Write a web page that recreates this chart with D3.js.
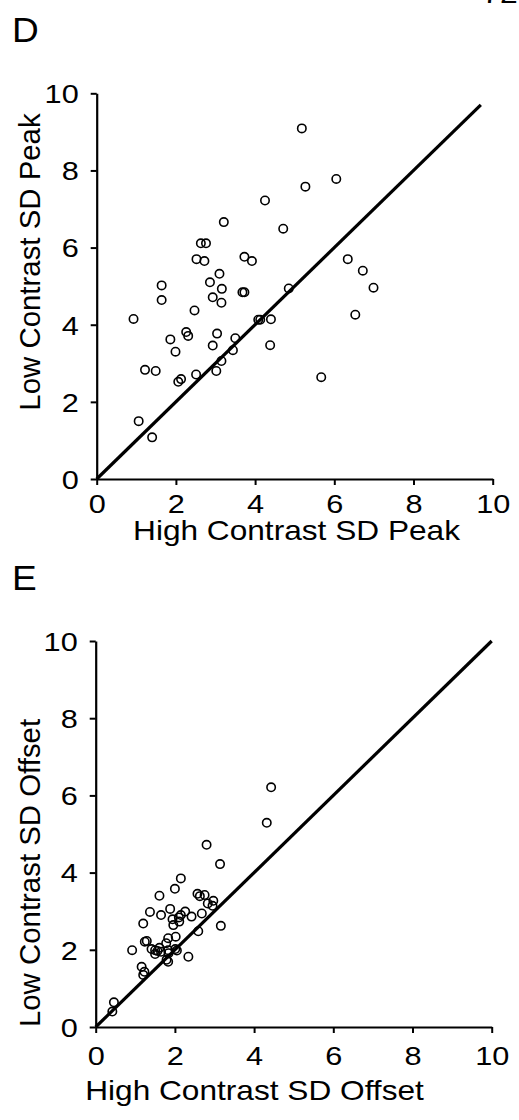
<!DOCTYPE html>
<html>
<head>
<meta charset="utf-8">
<script src="https://cdn.jsdelivr.net/npm/d3@7/dist/d3.min.js"></script>
<style>
  html, body { margin: 0; padding: 0; background: #ffffff; }
  svg { display: block; }
  text { font-family: "Liberation Sans", Arial, Helvetica, sans-serif; fill: #000; }
</style>
</head>
<body>
<script>
// ---- Data ----
const tickValues = [0, 2, 4, 6, 8, 10];
const tickLabels = ["0", "2", "4", "6", "8", "10"];

// Panel D: SD Peak
const peakHigh = [5.18, 6.05, 5.27, 4.25, 3.21, 4.71, 2.63, 2.76, 2.52, 2.72,
                  3.73, 3.92, 6.34, 6.72, 6.99, 3.10, 2.86, 1.64, 1.64, 3.16,
                  2.93, 3.15, 3.68, 3.73, 4.85, 2.47, 0.93, 4.08, 4.13, 4.40,
                  6.53, 2.26, 2.31, 3.04, 1.86, 3.50, 2.93, 4.38, 1.99, 3.44,
                  3.15, 1.22, 1.49, 2.51, 3.02, 2.06, 2.13, 5.67, 1.06, 1.40];
const peakLow  = [9.09, 7.78, 7.58, 7.22, 6.66, 6.49, 6.11, 6.11, 5.70, 5.65,
                  5.76, 5.65, 5.70, 5.40, 4.96, 5.32, 5.10, 5.02, 4.64, 4.93,
                  4.71, 4.57, 4.84, 4.84, 4.94, 4.37, 4.15, 4.13, 4.13, 4.14,
                  4.26, 3.81, 3.71, 3.77, 3.62, 3.65, 3.46, 3.47, 3.30, 3.34,
                  3.06, 2.83, 2.80, 2.71, 2.80, 2.52, 2.59, 2.64, 1.50, 1.08];
const peakLineEnd = 9.7;

// Panel E: SD Offset
const offsetHigh = [4.43, 4.32, 2.80, 3.14, 2.15, 2.00, 1.61, 2.57, 2.63, 2.75,
                    2.97, 2.83, 2.95, 1.88, 1.37, 1.65, 2.26, 2.15, 2.10, 2.42,
                    2.68, 1.94, 1.96, 2.11, 1.20, 3.16, 2.59, 2.02, 1.83, 1.24,
                    1.29, 1.78, 0.92, 1.41, 1.50, 1.61, 1.56, 1.50, 1.65, 1.83,
                    2.01, 2.05, 1.84, 1.79, 1.83, 2.34, 1.16, 1.23, 1.20, 0.46, 0.42];
const offsetLow  = [6.21, 5.29, 4.72, 4.22, 3.85, 3.58, 3.40, 3.45, 3.39, 3.42,
                    3.27, 3.20, 3.14, 3.06, 2.98, 2.90, 2.99, 2.90, 2.84, 2.86,
                    2.94, 2.79, 2.64, 2.73, 2.68, 2.62, 2.48, 2.34, 2.30, 2.21,
                    2.23, 2.17, 1.99, 2.02, 1.99, 2.05, 1.97, 1.89, 1.95, 1.99,
                    2.02, 1.98, 1.91, 1.74, 1.69, 1.82, 1.56, 1.43, 1.35, 0.64, 0.40];
const offsetLineEnd = 10;

// ---- Drawing ----
const W = 519, H = 1120;
const svg = d3.select("body").append("svg").attr("width", W).attr("height", H);
svg.append("rect").attr("width", W).attr("height", H).attr("fill", "#fff");

const SX = 1.18; // horizontal glyph stretch seen in the reference

// partial page number at top edge
svg.append("text").attr("transform", `translate(500,3) scale(${SX},1)`)
  .attr("text-anchor", "middle").style("font-size", "27px").text("72");

function panel(cfg) {
  const x = d3.scaleLinear().domain([0, 10]).range(cfg.xRange);
  const y = d3.scaleLinear().domain([0, 10]).range(cfg.yRange);
  const g = svg.append("g");

  // panel letter
  g.append("text").attr("transform", `translate(${cfg.letterPos[0]},${cfg.letterPos[1]}) scale(1.06,1)`)
    .style("font-size", "35px").text(cfg.letter);

  // x axis
  const xa = g.append("g").attr("transform", `translate(0,${cfg.yRange[0]})`)
    .call(d3.axisBottom(x).tickValues(tickValues).tickFormat((d, i) => tickLabels[i])
      .tickSize(6).tickSizeOuter(0));
  // y axis
  const ya = g.append("g").attr("transform", `translate(${cfg.xRange[0]},0)`)
    .call(d3.axisLeft(y).tickValues(tickValues).tickFormat((d, i) => tickLabels[i])
      .tickSize(6).tickSizeOuter(0));

  [xa, ya].forEach(a => {
    a.select(".domain").attr("stroke", "#000").attr("stroke-width", 2.2);
    a.selectAll(".tick line").attr("stroke", "#000").attr("stroke-width", 2);
    a.selectAll(".tick text").style("font-size", "26px")
      .style("font-family", '"Liberation Sans", Arial, Helvetica, sans-serif')
      .attr("fill", "#000");
  });
  xa.selectAll(".tick text").attr("y", cfg.xLabelBase).attr("dy", null)
    .attr("transform", `scale(${SX},1)`);
  ya.selectAll(".tick text").attr("x", -18 / SX).attr("dy", "0.36em")
    .attr("transform", `scale(${SX},1)`);

  // identity line
  g.append("line")
    .attr("x1", x(0)).attr("y1", y(0))
    .attr("x2", x(cfg.lineEnd)).attr("y2", y(cfg.lineEnd))
    .attr("stroke", "#000").attr("stroke-width", 3.2);

  // points
  g.append("g").selectAll("circle")
    .data(cfg.xs.map((v, i) => [v, cfg.ys[i]]))
    .join("circle")
    .attr("cx", d => x(d[0])).attr("cy", d => y(d[1]))
    .attr("r", 4.2).attr("fill", "none").attr("stroke", "#000").attr("stroke-width", 1.6);

  // axis titles
  g.append("text")
    .attr("transform", `translate(${cfg.xTitlePos[0]},${cfg.xTitlePos[1]}) scale(1.13,1)`)
    .attr("text-anchor", "middle").style("font-size", "28px").text(cfg.xTitle);
  g.append("text")
    .attr("transform", `translate(${cfg.yTitlePos[0]},${cfg.yTitlePos[1]}) rotate(-90) scale(1.05,1.08)`)
    .attr("text-anchor", "middle").style("font-size", "28px").text(cfg.yTitle);
}

panel({
  letter: "D", letterPos: [12, 42],
  xRange: [96.7, 492.7], yRange: [479, 93.3],
  xs: peakHigh, ys: peakLow, lineEnd: peakLineEnd,
  xLabelBase: 34,
  xTitle: "High Contrast SD Peak", xTitlePos: [296.5, 540],
  yTitle: "Low Contrast SD Peak", yTitlePos: [40, 262]
});

panel({
  letter: "E", letterPos: [12, 590],
  xRange: [95.7, 491.7], yRange: [1027, 641],
  xs: offsetHigh, ys: offsetLow, lineEnd: offsetLineEnd,
  xLabelBase: 38,
  xTitle: "High Contrast SD Offset", xTitlePos: [254.5, 1100],
  yTitle: "Low Contrast SD Offset", yTitlePos: [40, 873]
});
</script>
</body>
</html>
